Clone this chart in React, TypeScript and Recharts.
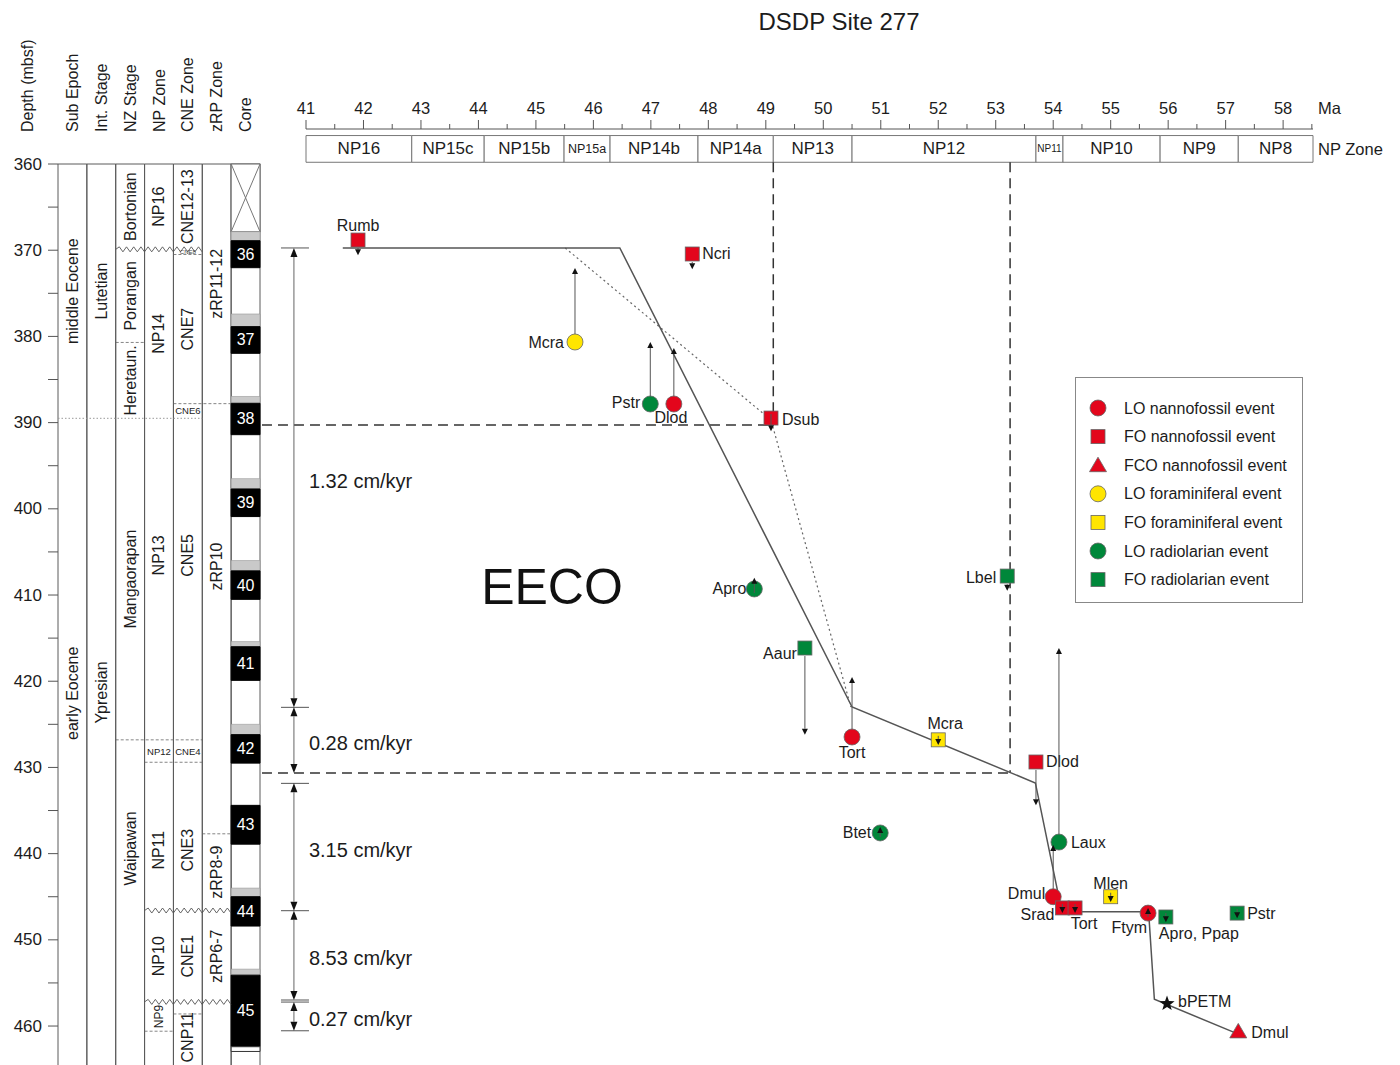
import React from "react";
import {
  ComposedChart,
  XAxis,
  YAxis,
  Scatter,
  Line,
  ReferenceLine,
  ReferenceArea,
  ReferenceDot,
  Legend,
  Label,
} from "recharts";

const FONT = "'Liberation Sans', Arial, Helvetica, sans-serif";
const INK = "#1c1c1c";
const RED = "#e3061c";
const YELLOW = "#ffe500";
const GREEN = "#00873a";

// ---------- axes ----------
const MA_TICKS = [
  41, 41.5, 42, 42.5, 43, 43.5, 44, 44.5, 45, 45.5, 46, 46.5, 47, 47.5, 48, 48.5, 49, 49.5,
  50, 50.5, 51, 51.5, 52, 52.5, 53, 53.5, 54, 54.5, 55, 55.5, 56, 56.5, 57, 57.5, 58, 58.5,
];
const DEPTH_TICKS = [
  360, 365, 370, 375, 380, 385, 390, 395, 400, 405, 410, 415, 420, 425, 430, 435, 440, 445, 450, 455, 460,
];

// NP zones along the age axis (Ma)
const NP_ZONES = [
  { name: "NP16", from: 41, to: 42.84 },
  { name: "NP15c", from: 42.84, to: 44.1 },
  { name: "NP15b", from: 44.1, to: 45.49 },
  { name: "NP15a", from: 45.49, to: 46.29 },
  { name: "NP14b", from: 46.29, to: 47.82 },
  { name: "NP14a", from: 47.82, to: 49.13 },
  { name: "NP13", from: 49.13, to: 50.5 },
  { name: "NP12", from: 50.5, to: 53.7 },
  { name: "NP11", from: 53.7, to: 54.17 },
  { name: "NP10", from: 54.17, to: 55.86 },
  { name: "NP9", from: 55.86, to: 57.22 },
  { name: "NP8", from: 57.22, to: 58.52 },
];

// ---------- stratigraphic columns ----------
const COLUMNS = ["Sub Epoch", "Int. Stage", "NZ Stage", "NP Zone", "CNE Zone", "zRP Zone", "Core"];

const UNITS = [
  { col: 0, top: 360, base: 389.5, name: "middle Eocene" },
  { col: 0, top: 389.5, base: 464.5, name: "early Eocene" },
  { col: 1, top: 360, base: 389.5, name: "Lutetian" },
  { col: 1, top: 389.5, base: 464.5, name: "Ypresian" },
  { col: 2, top: 360, base: 369.9, name: "Bortonian" },
  { col: 2, top: 369.9, base: 380.7, name: "Porangan" },
  { col: 2, top: 380.7, base: 389.5, name: "Heretaun." },
  { col: 2, top: 389.5, base: 426.8, name: "Mangaorapan" },
  { col: 2, top: 426.8, base: 464.5, name: "Waipawan" },
  { col: 3, top: 360, base: 369.9, name: "NP16" },
  { col: 3, top: 369.9, base: 389.5, name: "NP14" },
  { col: 3, top: 389.5, base: 426.8, name: "NP13" },
  { col: 3, top: 426.8, base: 429.4, name: "NP12" },
  { col: 3, top: 429.4, base: 446.6, name: "NP11" },
  { col: 3, top: 446.6, base: 457.2, name: "NP10" },
  { col: 3, top: 457.2, base: 460.6, name: "NP9" },
  { col: 4, top: 360, base: 369.9, name: "CNE12-13" },
  { col: 4, top: 369.9, base: 370.5, name: "CNE8" },
  { col: 4, top: 370.5, base: 387.8, name: "CNE7" },
  { col: 4, top: 387.8, base: 389.5, name: "CNE6" },
  { col: 4, top: 389.5, base: 426.8, name: "CNE5" },
  { col: 4, top: 426.8, base: 429.4, name: "CNE4" },
  { col: 4, top: 429.4, base: 446.6, name: "CNE3" },
  { col: 4, top: 446.6, base: 457.2, name: "CNE1" },
  { col: 4, top: 458.6, base: 464.5, name: "CNP11" },
  { col: 5, top: 360, base: 387.8, name: "zRP11-12" },
  { col: 5, top: 387.8, base: 437.7, name: "zRP10" },
  { col: 5, top: 437.7, base: 446.6, name: "zRP8-9" },
  { col: 5, top: 446.6, base: 457.2, name: "zRP6-7" },
];

// label depths where the name is not centred in its interval
const LABEL_AT: Record<string, number> = {
  "early Eocene": 421.4,
  Ypresian: 421.3,
  Waipawan: 439.4,
  NP13: 405.4,
  NP11: 439.6,
  CNE5: 405.4,
  CNE3: 439.6,
  CNP11: 461.3,
  zRP10: 406.7,
};

const BOUNDARIES = [
  { from: 0, to: 5, depth: 389.5, kind: "dotted" },
  { from: 2, to: 5, depth: 369.9, kind: "wavy" },
  { from: 2, to: 3, depth: 380.7, kind: "dashed" },
  { from: 4, to: 5, depth: 370.5, kind: "dashed" },
  { from: 4, to: 6, depth: 387.8, kind: "dashed" },
  { from: 2, to: 5, depth: 426.8, kind: "dashed" },
  { from: 3, to: 5, depth: 429.4, kind: "dashed" },
  { from: 5, to: 6, depth: 437.7, kind: "dashed" },
  { from: 3, to: 6, depth: 446.6, kind: "wavy" },
  { from: 3, to: 6, depth: 457.2, kind: "wavy" },
  { from: 4, to: 5, depth: 458.6, kind: "dashed" },
  { from: 3, to: 4, depth: 460.6, kind: "dashed" },
];

// cores: gray = top of disturbed part, top/base = recovered (black) part
const NO_RECOVERY = { top: 360, base: 367.85 };
const CORES = [
  { core: "36", gray: 367.85, top: 368.9, base: 372.03 },
  { core: "37", gray: 377.4, top: 378.87, base: 381.96 },
  { core: "38", gray: 386.97, top: 387.76, base: 391.4 },
  { core: "39", gray: 396.5, top: 397.7, base: 400.9 },
  { core: "40", gray: 406.0, top: 407.2, base: 410.5 },
  { core: "41", gray: 415.4, top: 416.0, base: 419.9 },
  { core: "42", gray: 425.0, top: 426.2, base: 429.5 },
  { core: "43", gray: 434.4, top: 434.4, base: 438.9 },
  { core: "44", gray: 444.0, top: 445.0, base: 448.4 },
  { core: "45", gray: 453.4, top: 454.1, base: 462.4 },
];
const CORE_CATCHER = { top: 462.4, base: 462.95 };

// ---------- age model ----------
const AGE_MODEL = [
  { age: 41.64, depth: 369.74 },
  { age: 46.46, depth: 369.74 },
  { age: 50.5, depth: 422.99 },
  { age: 53.69, depth: 431.8 },
  { age: 54.15, depth: 446.74 },
  { age: 55.66, depth: 446.74 },
  { age: 55.76, depth: 456.9 },
  { age: 57.19, depth: 460.85 },
];
const ALT_MODEL = [
  { age: 45.51, depth: 369.74 },
  { age: 49.09, depth: 389.7 },
  { age: 50.48, depth: 422.99 },
];

const RATES = [
  { top: 369.74, base: 423.03, rate: "1.32 cm/kyr" },
  { top: 423.03, base: 430.65, rate: "0.28 cm/kyr" },
  { top: 431.85, base: 446.62, rate: "3.15 cm/kyr" },
  { top: 446.62, base: 456.98, rate: "8.53 cm/kyr" },
  { top: 457.22, base: 460.55, rate: "0.27 cm/kyr" },
];

const HIATUSES = [
  { age: 49.13, depth: 390.28 },
  { age: 53.25, depth: 430.65 },
];

// ---------- bioevents ----------
const EVENT_TYPES = [
  { key: "LO_N", label: "LO nannofossil event" },
  { key: "FO_N", label: "FO nannofossil event" },
  { key: "FCO_N", label: "FCO nannofossil event" },
  { key: "LO_F", label: "LO foraminiferal event" },
  { key: "FO_F", label: "FO foraminiferal event" },
  { key: "LO_R", label: "LO radiolarian event" },
  { key: "FO_R", label: "FO radiolarian event" },
];

const EVENTS = [
  { name: "Rumb", type: "FO_N", age: 41.905, depth: 368.82, to: 370.6 },
  { name: "Ncri", type: "FO_N", age: 47.72, depth: 370.44, to: 372.2 },
  { name: "Mcra", type: "LO_F", age: 45.68, depth: 380.65, to: 372.06 },
  { name: "Pstr", type: "LO_R", age: 46.99, depth: 387.84, to: 380.65 },
  { name: "Dlod", type: "LO_N", age: 47.4, depth: 387.84, to: 381.35 },
  { name: "Dsub", type: "FO_N", age: 49.09, depth: 389.47, to: 391.0 },
  { name: "Apro", type: "LO_R", age: 48.8, depth: 409.3, to: 408.0 },
  { name: "Aaur", type: "FO_R", age: 49.68, depth: 416.15, to: 426.2 },
  { name: "Lbel", type: "FO_R", age: 53.2, depth: 407.8, to: 409.5 },
  { name: "Tort", type: "LO_N", age: 50.5, depth: 426.47, to: 419.5 },
  { name: "Mcra", type: "FO_F", age: 52.0, depth: 426.8, to: 427.4 },
  { name: "Dlod", type: "FO_N", age: 53.7, depth: 429.37, to: 434.4 },
  { name: "Btet", type: "LO_R", age: 50.99, depth: 437.6, to: 436.9 },
  { name: "Laux", type: "LO_R", age: 54.1, depth: 438.66, to: 416.15 },
  { name: "Dmul", type: "LO_N", age: 54.0, depth: 445.0, to: 439.0 },
  { name: "Srad", type: "FO_N", age: 54.16, depth: 446.3, to: 446.9 },
  { name: "Tort", type: "FO_N", age: 54.38, depth: 446.3, to: 446.9 },
  { name: "Mlen", type: "FO_F", age: 55.0, depth: 445.0, to: 445.6 },
  { name: "Ftym", type: "LO_N", age: 55.65, depth: 446.9, to: 446.3 },
  { name: "Apro, Ppap", type: "FO_R", age: 55.96, depth: 447.35, to: 447.95 },
  { name: "Pstr", type: "FO_R", age: 57.2, depth: 446.9, to: 447.5 },
  { name: "Dmul", type: "FCO_N", age: 57.22, depth: 460.62 },
  { name: "bPETM", type: "PETM", age: 55.98, depth: 457.4 },
];

// label offsets (px) next to each event marker, same order as EVENTS
const LABEL_POS = [
  { dx: 0, dy: -15, anchor: "middle" },
  { dx: 10, dy: 0, anchor: "start" },
  { dx: -11, dy: 0, anchor: "end" },
  { dx: -10, dy: -1, anchor: "end" },
  { dx: -3, dy: 14, anchor: "middle" },
  { dx: 11, dy: 1, anchor: "start" },
  { dx: -8, dy: 0, anchor: "end" },
  { dx: -8, dy: 5, anchor: "end" },
  { dx: -11, dy: 1, anchor: "end" },
  { dx: 0, dy: 16, anchor: "middle" },
  { dx: 7, dy: -16, anchor: "middle" },
  { dx: 10, dy: 0, anchor: "start" },
  { dx: -9, dy: 0, anchor: "end" },
  { dx: 12, dy: 0, anchor: "start" },
  { dx: -8, dy: -3, anchor: "end" },
  { dx: -8, dy: 7, anchor: "end" },
  { dx: 9, dy: 16, anchor: "middle" },
  { dx: 0, dy: -13, anchor: "middle" },
  { dx: -1, dy: 14, anchor: "end" },
  { dx: -7, dy: 17, anchor: "start" },
  { dx: 10, dy: 0, anchor: "start" },
  { dx: 13, dy: 1, anchor: "start" },
  { dx: 11, dy: -2, anchor: "start" },
];

const TYPE_STYLE: Record<string, { shape: string; fill: string }> = {
  LO_N: { shape: "circle", fill: RED },
  FO_N: { shape: "square", fill: RED },
  FCO_N: { shape: "triangle", fill: RED },
  LO_F: { shape: "circle", fill: YELLOW },
  FO_F: { shape: "square", fill: YELLOW },
  LO_R: { shape: "circle", fill: GREEN },
  FO_R: { shape: "square", fill: GREEN },
  PETM: { shape: "star", fill: "#111" },
};

const ANNOTATION = { text: "EECO", age: 45.28, depth: 409.07 };

// ---------- drawing helpers ----------
function Glyph({ shape, fill, cx, cy }: any) {
  const st = { fill, stroke: "#666", strokeWidth: 0.8 };
  if (shape === "circle") return <circle cx={cx} cy={cy} r={8} {...st} />;
  if (shape === "square") return <rect x={cx - 7} y={cy - 7} width={14} height={14} {...st} />;
  if (shape === "triangle")
    return <path d={`M${cx},${cy - 8} L${cx + 8.5},${cy + 6.5} L${cx - 8.5},${cy + 6.5} Z`} {...st} />;
  const pts: string[] = [];
  for (let i = 0; i < 10; i++) {
    const r = i % 2 === 0 ? 8 : 3.3;
    const a = -Math.PI / 2 + (i * Math.PI) / 5;
    pts.push(`${cx + r * Math.cos(a)},${cy + r * Math.sin(a)}`);
  }
  return <polygon points={pts.join(" ")} fill="#111" />;
}

const EventMark = (p: any) => {
  const { cx, cy, payload } = p;
  const st = TYPE_STYLE[payload.type];
  const lp = LABEL_POS[payload.id];
  return (
    <g>
      <Glyph shape={st.shape} fill={st.fill} cx={cx} cy={cy} />
      <text
        x={cx + lp.dx}
        y={cy + lp.dy}
        textAnchor={lp.anchor}
        dominantBaseline="central"
        fontSize={16}
        fill={INK}
        fontFamily={FONT}
      >
        {payload.name}
      </text>
    </g>
  );
};

const EventArrow = (p: any) => {
  const { x1, y1, y2 } = p;
  const dir = y2 > y1 ? 1 : -1;
  const span = Math.abs(y2 - y1);
  const start = span > 14 ? y1 + dir * 8 : y1 - dir * 4;
  const h = 6;
  return (
    <g>
      <line x1={x1} x2={x1} y1={start} y2={y2 - dir * h} stroke="#555" strokeWidth={1} />
      <path d={`M${x1},${y2} L${x1 - 3},${y2 - dir * h} L${x1 + 3},${y2 - dir * h} Z`} fill="#111" />
    </g>
  );
};

const RateArrow = (p: any) => {
  const { x1, y1, y2, text } = p;
  const h = 9;
  const w = 3.5;
  return (
    <g>
      <line x1={x1} x2={x1} y1={y1 + h} y2={y2 - h} stroke="#666" strokeWidth={1} />
      <path d={`M${x1},${y1} L${x1 - w},${y1 + h} L${x1 + w},${y1 + h} Z`} fill="#111" />
      <path d={`M${x1},${y2} L${x1 - w},${y2 - h} L${x1 + w},${y2 - h} Z`} fill="#111" />
      <text x={x1 + 15} y={(y1 + y2) / 2 + 3} dominantBaseline="central" fontSize={20} fill={INK} fontFamily={FONT}>
        {text}
      </text>
    </g>
  );
};

const Wavy = (p: any) => {
  const { x1, x2, y1 } = p;
  const step = 3.6;
  let d = `M${x1},${y1}`;
  let up = true;
  for (let x = x1 + step; x <= x2 + 0.01; x += step) {
    d += ` L${x},${y1 + (up ? -2.5 : 2.5)}`;
    up = !up;
  }
  return <path d={d} fill="none" stroke="#555" strokeWidth={0.9} />;
};

const XBox = (p: any) => {
  const { x, y, width, height } = p;
  return (
    <g>
      <rect x={x} y={y} width={width} height={height} fill="#fff" stroke="#666" strokeWidth={1} />
      <line x1={x} y1={y} x2={x + width} y2={y + height} stroke="#777" />
      <line x1={x + width} y1={y} x2={x} y2={y + height} stroke="#777" />
    </g>
  );
};

const HeaderTick = (p: any) => {
  const { x, y, payload } = p;
  const ty = y - 32;
  return (
    <text
      x={x}
      y={ty}
      transform={`rotate(-90 ${x} ${ty})`}
      textAnchor="start"
      dominantBaseline="central"
      fontSize={16}
      fill={INK}
      fontFamily={FONT}
    >
      {COLUMNS[Math.floor(payload.value)]}
    </text>
  );
};

const DepthTick = (p: any) => {
  const { x, y, payload } = p;
  const v = payload.value;
  return (
    <g>
      <line x1={x - 10} x2={x} y1={y} y2={y} stroke="#555" />
      {v % 10 === 0 && (
        <text x={x - 16} y={y} textAnchor="end" dominantBaseline="central" fontSize={17} fill={INK} fontFamily={FONT}>
          {v}
        </text>
      )}
    </g>
  );
};

const DepthTitle = (p: any) => {
  const vb = p.viewBox || { x: 0, y: 164 };
  const x = vb.x + 27;
  const y = vb.y - 32;
  return (
    <text
      x={x}
      y={y}
      transform={`rotate(-90 ${x} ${y})`}
      textAnchor="start"
      dominantBaseline="central"
      fontSize={16}
      fill={INK}
      fontFamily={FONT}
    >
      Depth (mbsf)
    </text>
  );
};

const MaTick = (p: any) => {
  const { x, y, payload } = p;
  const v = payload.value;
  const major = Number.isInteger(v);
  return (
    <g>
      <line x1={x} x2={x} y1={y} y2={y - (major ? 9 : 5)} stroke="#555" />
      {major && (
        <text x={x} y={y - 21} textAnchor="middle" dominantBaseline="central" fontSize={16.5} fill={INK} fontFamily={FONT}>
          {v}
        </text>
      )}
    </g>
  );
};

const MaUnit = (p: any) => {
  const vb = p.viewBox;
  if (!vb) return null;
  return (
    <text
      x={vb.x + vb.width + 5}
      y={vb.y + vb.height - 21}
      dominantBaseline="central"
      fontSize={16.5}
      fill={INK}
      fontFamily={FONT}
    >
      Ma
    </text>
  );
};

function zoneLabel(name: string) {
  return (p: any) => {
    const vb = p.viewBox;
    const fs = vb.width < 35 ? 10 : vb.width < 50 ? 12.5 : 17;
    return (
      <text
        x={vb.x + vb.width / 2}
        y={vb.y + vb.height / 2}
        textAnchor="middle"
        dominantBaseline="central"
        fontSize={fs}
        fill={INK}
        fontFamily={FONT}
      >
        {name}
      </text>
    );
  };
}

// rotated / small names drawn at each unit's label point
const UnitMark = (p: any) => {
  const { cx, cy, payload } = p;
  const thick = payload.base - payload.top;
  if (thick < 1)
    return (
      <text x={cx} y={cy} textAnchor="middle" dominantBaseline="central" fontSize={6} fill="#444" fontFamily={FONT}>
        {payload.name}
      </text>
    );
  if (thick < 3)
    return (
      <text x={cx} y={cy} textAnchor="middle" dominantBaseline="central" fontSize={9.5} fill={INK} fontFamily={FONT}>
        {payload.name}
      </text>
    );
  return (
    <text
      x={cx}
      y={cy}
      transform={`rotate(-90 ${cx} ${cy})`}
      textAnchor="middle"
      dominantBaseline="central"
      fontSize={thick < 5 ? 12 : 16}
      fill={INK}
      fontFamily={FONT}
    >
      {payload.name}
    </text>
  );
};

const CoreMark = (p: any) => {
  const { cx, cy, payload } = p;
  return (
    <text x={cx} y={cy} textAnchor="middle" dominantBaseline="central" fontSize={16} fill="#fff" fontFamily={FONT}>
      {payload.core}
    </text>
  );
};

const boundaryStyle: Record<string, any> = {
  dashed: { stroke: "#666", strokeDasharray: "3 2", strokeWidth: 0.8 },
  dotted: { stroke: "#999", strokeDasharray: "1.5 2", strokeWidth: 1 },
};

const LegendBox = (props: any) => {
  const names = (props.payload || []).filter((p: any) => p.type !== "none").map((p: any) => p.value);
  const items = EVENT_TYPES.filter((t) => names.length === 0 || names.includes(t.label));
  return (
    <div style={{ width: 228, height: 226, border: "1px solid #888", background: "#fff", boxSizing: "border-box" }}>
      <svg width={226} height={224}>
        {items.map((t, i) => {
          const st = TYPE_STYLE[t.key];
          const cy = 30 + i * 28.6;
          return (
            <g key={t.key}>
              <Glyph shape={st.shape} fill={st.fill} cx={22} cy={cy} />
              <text x={48} y={cy} dominantBaseline="central" fontSize={16} fill={INK} fontFamily={FONT}>
                {t.label}
              </text>
            </g>
          );
        })}
      </svg>
    </div>
  );
};

// ---------- charts ----------
const COLUMN_TICKS = COLUMNS.map((_, i) => i + 0.5);
const AGE_LEFT = 40.234; // left end of the hiatus guide lines
const RATE_X = 40.79;
const BAR_X = [40.565, 41.052];

function StratColumns() {
  const unitPoints = UNITS.map((u) => ({
    ...u,
    x: u.col + 0.5,
    depth: LABEL_AT[u.name] ?? (u.top + u.base) / 2,
  }));
  const corePoints = CORES.map((c) => ({ ...c, x: 6.5, depth: (c.top + c.base) / 2 }));
  return (
    <ComposedChart width={262} height={1065} margin={{ top: 34, right: 2, bottom: 0, left: 0 }}>
      <XAxis
        dataKey="x"
        type="number"
        orientation="top"
        domain={[0, 7]}
        allowDataOverflow
        ticks={COLUMN_TICKS}
        interval={0}
        height={130}
        axisLine={false}
        tickLine={false}
        tickSize={0}
        tickMargin={0}
        tick={HeaderTick}
      />
      <YAxis
        dataKey="depth"
        type="number"
        domain={[360, 464.52]}
        allowDataOverflow
        reversed
        ticks={DEPTH_TICKS}
        interval={0}
        width={58}
        axisLine={false}
        tickLine={false}
        tickSize={0}
        tickMargin={0}
        tick={DepthTick}
      >
        <Label content={DepthTitle} />
      </YAxis>

      {COLUMNS.map((c, i) => (
        <ReferenceArea
          key={`col-${c}`}
          x1={i}
          x2={i + 1}
          y1={360}
          y2={470}
          ifOverflow="visible"
          fill="none"
          stroke="#5a5a5a"
          strokeWidth={1}
        />
      ))}

      <ReferenceArea x1={6} x2={7} y1={NO_RECOVERY.top} y2={NO_RECOVERY.base} shape={XBox} />
      {CORES.map((c) =>
        c.top > c.gray ? (
          <ReferenceArea
            key={`g-${c.core}`}
            x1={6}
            x2={7}
            y1={c.gray}
            y2={c.top}
            fill="#c9c9c9"
            fillOpacity={1}
            stroke="#999"
            strokeWidth={0.6}
          />
        ) : null
      )}
      {CORES.map((c) => (
        <ReferenceArea
          key={`c-${c.core}`}
          x1={6}
          x2={7}
          y1={c.top}
          y2={c.base}
          fill="#000"
          fillOpacity={1}
          stroke="#000"
        />
      ))}
      <ReferenceArea
        x1={6}
        x2={7}
        y1={CORE_CATCHER.top}
        y2={CORE_CATCHER.base}
        fill="#fff"
        fillOpacity={1}
        stroke="#333"
        strokeWidth={1}
      />

      {BOUNDARIES.map((b, i) => (
        <ReferenceLine
          key={`b-${i}`}
          segment={[
            { x: b.from, y: b.depth },
            { x: b.to, y: b.depth },
          ]}
          ifOverflow="visible"
          {...(b.kind === "wavy" ? { shape: Wavy } : boundaryStyle[b.kind])}
        />
      ))}

      <Scatter name="units" data={unitPoints} shape={UnitMark} legendType="none" isAnimationActive={false} />
      <Scatter name="cores" data={corePoints} shape={CoreMark} legendType="none" isAnimationActive={false} />
    </ComposedChart>
  );
}

function AgeDepth() {
  const hiatusDepths = HIATUSES.map((h) => h.depth);
  const barDepths = Array.from(new Set(RATES.flatMap((r) => [r.top, r.base]))).filter(
    (d) => !hiatusDepths.includes(d)
  );
  const events = EVENTS.map((e, id) => ({ ...e, id }));
  return (
    <ComposedChart width={1400} height={1065} margin={{ top: 99, right: 87, bottom: 0, left: 306 }}>
      <XAxis
        dataKey="age"
        type="number"
        orientation="top"
        domain={[41, 58.52]}
        allowDataOverflow
        ticks={MA_TICKS}
        interval={0}
        height={30}
        tickSize={0}
        tickMargin={0}
        tickLine={false}
        axisLine={{ stroke: "#555" }}
        tick={MaTick}
      >
        <Label content={MaUnit} />
      </XAxis>
      <YAxis dataKey="depth" type="number" domain={[355.94, 464.52]} allowDataOverflow reversed hide />

      {NP_ZONES.map((z) => (
        <ReferenceArea
          key={z.name}
          x1={z.from}
          x2={z.to}
          y1={356.7}
          y2={359.8}
          fill="#fff"
          fillOpacity={1}
          stroke="#777"
          strokeWidth={1}
          label={zoneLabel(z.name)}
        />
      ))}

      {HIATUSES.map((h, i) => (
        <ReferenceLine
          key={`hh-${i}`}
          segment={[
            { x: AGE_LEFT, y: h.depth },
            { x: h.age, y: h.depth },
          ]}
          ifOverflow="visible"
          stroke="#333"
          strokeWidth={1.5}
          strokeDasharray="10 6"
        />
      ))}
      {HIATUSES.map((h, i) => (
        <ReferenceLine
          key={`hv-${i}`}
          segment={[
            { x: h.age, y: 359.8 },
            { x: h.age, y: h.depth },
          ]}
          ifOverflow="visible"
          stroke="#333"
          strokeWidth={1.5}
          strokeDasharray="10 6"
        />
      ))}

      {barDepths.map((d) => (
        <ReferenceLine
          key={`bar-${d}`}
          segment={[
            { x: BAR_X[0], y: d },
            { x: BAR_X[1], y: d },
          ]}
          ifOverflow="visible"
          stroke="#555"
          strokeWidth={1}
        />
      ))}
      {RATES.map((r) => (
        <ReferenceLine
          key={r.rate}
          segment={[
            { x: RATE_X, y: r.top },
            { x: RATE_X, y: r.base },
          ]}
          ifOverflow="visible"
          shape={(p: any) => <RateArrow {...p} text={r.rate} />}
        />
      ))}

      <Line
        data={ALT_MODEL}
        dataKey="depth"
        type="linear"
        stroke="#666"
        strokeWidth={1.2}
        strokeDasharray="2 3"
        dot={false}
        activeDot={false}
        legendType="none"
        isAnimationActive={false}
      />
      <Line
        data={AGE_MODEL}
        dataKey="depth"
        type="linear"
        stroke="#555"
        strokeWidth={1.5}
        dot={false}
        activeDot={false}
        legendType="none"
        isAnimationActive={false}
      />

      {EVENT_TYPES.map((t) => (
        <Scatter
          key={t.key}
          name={t.label}
          data={events.filter((e) => e.type === t.key)}
          fill={TYPE_STYLE[t.key].fill}
          shape={EventMark}
          isAnimationActive={false}
        />
      ))}
      <Scatter
        name="bPETM"
        legendType="none"
        data={events.filter((e) => e.type === "PETM")}
        fill="#111"
        shape={EventMark}
        isAnimationActive={false}
      />

      {events
        .filter((e) => e.to !== undefined)
        .map((e) => (
          <ReferenceLine
            key={`ar-${e.id}`}
            segment={[
              { x: e.age, y: e.depth },
              { x: e.age, y: e.to as number },
            ]}
            ifOverflow="visible"
            zIndex={700}
            shape={EventArrow}
          />
        ))}

      <ReferenceDot
        x={ANNOTATION.age}
        y={ANNOTATION.depth}
        r={1}
        fill="none"
        stroke="none"
        label={(p: any) => (
          <text
            x={p.viewBox.x + p.viewBox.width / 2}
            y={p.viewBox.y + p.viewBox.height / 2}
            textAnchor="middle"
            dominantBaseline="central"
            fontSize={50}
            fill="#111"
            fontFamily={FONT}
          >
            {ANNOTATION.text}
          </text>
        )}
      />

      <Legend
        layout="vertical"
        align="center"
        verticalAlign="middle"
        content={LegendBox}
        wrapperStyle={{ left: 1075, top: 377, width: 228, height: 226 }}
      />
    </ComposedChart>
  );
}

export default function App() {
  return (
    <div
      style={{
        position: "absolute",
        left: 0,
        top: 0,
        width: 1400,
        height: 1065,
        background: "#fff",
        overflow: "hidden",
        fontFamily: FONT,
        color: INK,
      }}
    >
      <div style={{ position: "absolute", left: 0, top: 0 }}>
        <StratColumns />
      </div>
      <div style={{ position: "absolute", left: 0, top: 0 }}>
        <AgeDepth />
      </div>
      <div
        style={{
          position: "absolute",
          left: 639,
          top: 8,
          width: 400,
          textAlign: "center",
          fontSize: 24,
          lineHeight: "28px",
        }}
      >
        DSDP Site 277
      </div>
      <div style={{ position: "absolute", left: 1318, top: 138, fontSize: 16.5, lineHeight: "22px" }}>NP Zone</div>
    </div>
  );
}
